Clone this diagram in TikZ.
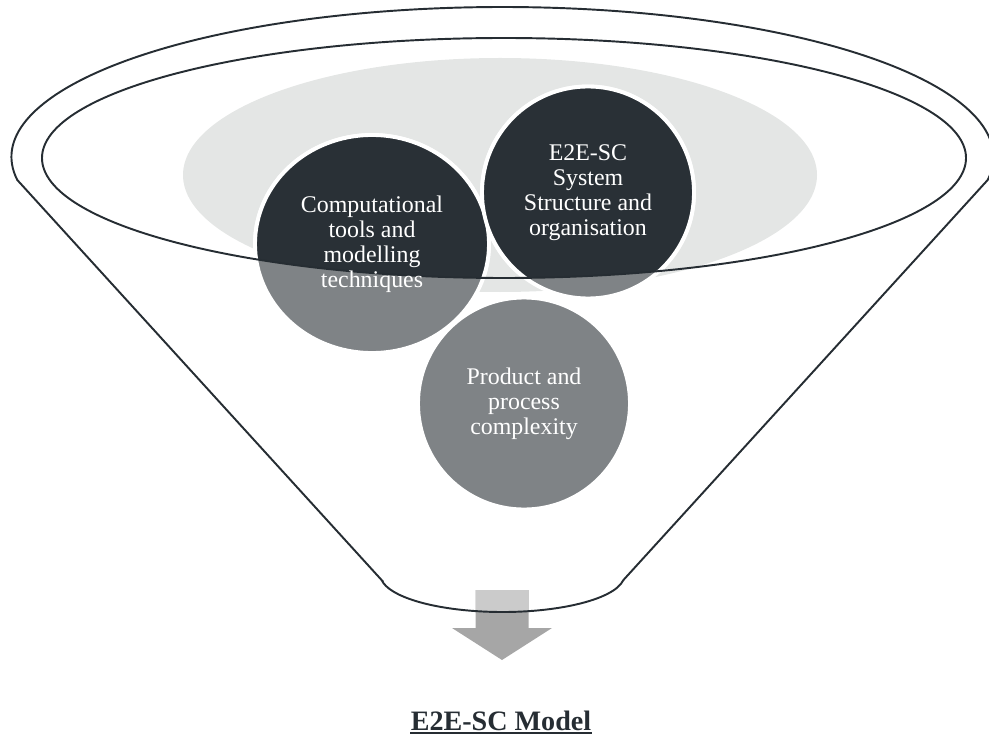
\documentclass[tikz,border=0pt]{standalone}
\usepackage{fontspec}
\setmainfont{Liberation Serif}
\usetikzlibrary{positioning}
\definecolor{penColor}{HTML}{262D33}
\definecolor{bubbleDark}{HTML}{293036}
\definecolor{bubbleGray}{HTML}{7F8386}
\definecolor{hazeColor}{HTML}{E4E6E5}
\definecolor{arrowLow}{HTML}{A6A6A6}
\definecolor{arrowHigh}{HTML}{CBCBCB}
\tikzset{
	funnelline/.style={draw=penColor,line width=1.1pt},
	bubble/.style={draw=white,line width=2.2pt},
	bubbletext/.style={text=white,align=center,inner sep=0pt,font=\fontsize{13.6}{14.2}\selectfont},
}
\newcommand{\funnelpath}{(381.7,580.15) -- (17.3,180) arc[start angle=171.18, end angle=368.82, x radius=491, y radius=150] -- (623.3,580.15) arc[start angle=8, end angle=172, x radius=122, y radius=37] -- cycle}

\begin{document}
\begin{tikzpicture}[x=0.02cm,y=-0.02cm]
				\useasboundingbox (0,0) rectangle (989,736);
				\coordinate (compC) at (372,244);
				\coordinate (sysC) at (588,192.5);
				\coordinate (prodC) at (524,403.5);
				\fill[hazeColor] (500,175) ellipse[x radius=317, y radius=117];
				\foreach \c/\rx/\ry in {compC/117/109,sysC/106/106,prodC/106/106}
					\filldraw[bubble,fill=bubbleGray] (\c) ellipse[x radius=\rx, y radius=\ry];
				\begin{scope}
					\clip (504,158) ellipse[x radius=462, y radius=120];
					\foreach \c/\rx/\ry in {compC/117/109,sysC/106/106}
						\filldraw[bubble,fill=bubbleDark] (\c) ellipse[x radius=\rx, y radius=\ry];
				\end{scope}
				\draw[funnelline] (504,158) ellipse[x radius=462, y radius=120];
				\node[bubbletext] (comp) at (compC) {Computational\\tools and\\modelling\\techniques};
				\node[bubbletext] (sys) at (sysC) {E2E-SC\\System\\Structure and\\organisation};
				\node[bubbletext] (prod) at (prodC) {Product and\\process\\complexity};
				% arrow out of the funnel
				\fill[arrowLow] (475.5,590) -- (528.5,590) -- (528.5,628) -- (552,628) -- (502,660) -- (452,628) -- (475.5,628) -- cycle;
				\begin{scope}
					\clip \funnelpath;
					\fill[arrowHigh] (475.5,590) rectangle (528.5,628);
				\end{scope}
				\draw[funnelline] \funnelpath;
				\node[anchor=base,inner sep=0pt,text=penColor,font=\fontsize{16}{19}\selectfont\bfseries] (model) at (501,730) {E2E-SC Model};
				\draw[penColor,line width=1.1pt] ([yshift=-1.6pt]model.base west) -- ([yshift=-1.6pt]model.base east);
\end{tikzpicture}
\end{document}
